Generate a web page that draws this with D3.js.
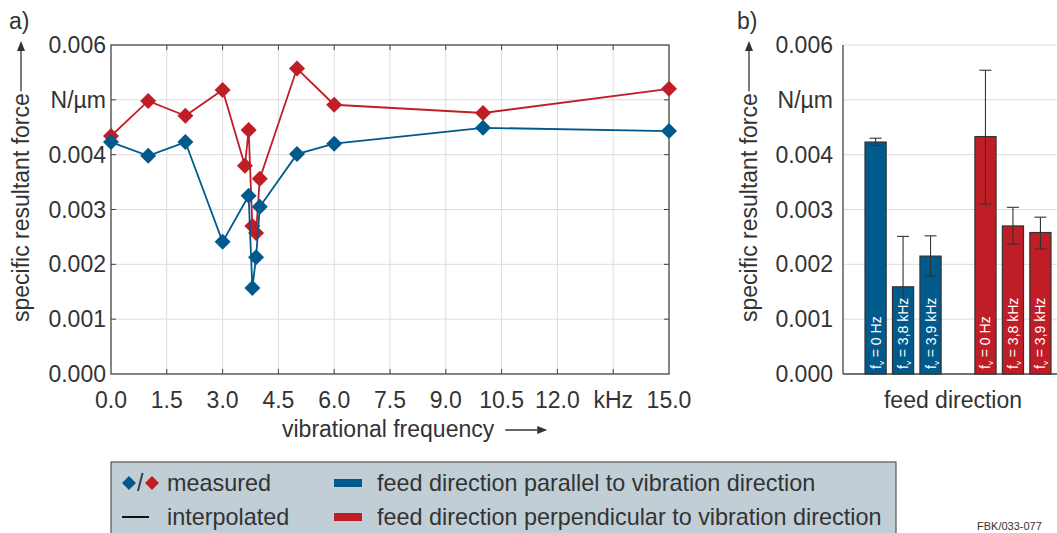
<!DOCTYPE html>
<html>
<head>
<meta charset="utf-8">
<script src="https://cdn.jsdelivr.net/npm/d3@7"></script>
<style>
body{margin:0;background:#fff;}
svg text{font-family:"Liberation Sans",Arial,sans-serif;fill:#333;}
</style>
</head>
<body>
<script>
// line chart a)
let freqBlue=[0,1,2,3,3.7,3.8,3.9,4.0,5,6,10,15];
let forceBlue=[0.00423,0.00398,0.00423,0.00241,0.00325,0.00157,0.00213,0.00305,0.00401,0.00420,0.00449,0.00443];
let freqRed=[0,1,2,3,3.6,3.7,3.8,3.9,4.0,5,6,10,15];
let forceRed=[0.00434,0.00498,0.00471,0.00518,0.00380,0.00445,0.00270,0.00257,0.00356,0.00557,0.00491,0.00476,0.00520];
let xTicks=[0,1.5,3,4.5,6,7.5,9,10.5,12,13.5,15];
let xTickLabels=["0.0","1.5","3.0","4.5","6.0","7.5","9.0","10.5","12.0","kHz","15.0"];
let yTicks=[0,0.001,0.002,0.003,0.004,0.005,0.006];
let yTickLabels=["0.000","0.001","0.002","0.003","0.004","N/\u00b5m","0.006"];
// bar chart b)
let barLabels=["0 Hz","3,8 kHz","3,9 kHz"];
let barBlue=[0.00423,0.00159,0.00215];
let barBlueLow=[0.00417,0.00112,0.00179];
let barBlueHigh=[0.00430,0.00251,0.00252];
let barRed=[0.00433,0.00270,0.00258];
let barRedLow=[0.00310,0.00237,0.00228];
let barRedHigh=[0.00554,0.00304,0.00286];

const BLUE="#005a8c",RED="#c01e27",AXIS="#444",GRID="#dcdcdc",FS=23;
let svgWidth=1057,svgHeight=533;
let svg=d3.select("body").append("svg").attr("width",svgWidth).attr("height",svgHeight);
let diamondPath=r=>`M0,${-r}L${r},0L0,${r}L${-r},0Z`;

function yTitle(x,yBottom,yTop){
    let g=svg.append("g");
    let t=g.append("text").attr("transform",`translate(${x},${yBottom}) rotate(-90)`)
        .attr("font-size",FS).text("specific resultant force");
    let len=t.node().getComputedTextLength();
    let y0=yBottom-len-2;
    g.append("line").attr("x1",x-8).attr("x2",x-8).attr("y1",y0).attr("y2",yTop+8)
        .attr("stroke","#333").attr("stroke-width",1.3);
    g.append("path").attr("d",`M${x-8},${yTop} l-4,10 l8,0 z`).attr("fill","#333");
}

// ---------- a) ----------
let x=d3.scaleLinear().domain([0,15]).range([111,669]);
let y=d3.scaleLinear().domain([0,0.006]).range([374,45]);
let ga=svg.append("g");
ga.append("g").selectAll("line").data(xTicks.slice(1,-1)).enter().append("line")
    .attr("x1",d=>x(d)).attr("x2",d=>x(d)).attr("y1",45).attr("y2",374)
    .attr("stroke",GRID).attr("stroke-width",1);
ga.append("g").selectAll("line").data(yTicks.slice(1,-1)).enter().append("line")
    .attr("x1",111).attr("x2",669).attr("y1",d=>y(d)).attr("y2",d=>y(d))
    .attr("stroke",GRID).attr("stroke-width",1);
// frame with inward ticks
ga.append("rect").attr("x",111).attr("y",45).attr("width",558).attr("height",329)
    .attr("fill","none").attr("stroke",AXIS).attr("stroke-width",1.3);
xTicks.slice(1,-1).forEach(d=>{
    ga.append("line").attr("x1",x(d)).attr("x2",x(d)).attr("y1",45).attr("y2",50).attr("stroke",AXIS);
    ga.append("line").attr("x1",x(d)).attr("x2",x(d)).attr("y1",374).attr("y2",369).attr("stroke",AXIS);
});
yTicks.slice(1,-1).forEach(d=>{
    ga.append("line").attr("x1",669).attr("x2",664).attr("y1",y(d)).attr("y2",y(d)).attr("stroke",AXIS);
    ga.append("line").attr("x1",111).attr("x2",116).attr("y1",y(d)).attr("y2",y(d)).attr("stroke",AXIS);
});
ga.append("g").selectAll("text").data(xTicks).enter().append("text")
    .attr("x",d=>x(d)).attr("y",408).attr("text-anchor","middle").attr("font-size",FS)
    .text((d,i)=>xTickLabels[i]);
ga.append("g").selectAll("text").data(yTicks).enter().append("text")
    .attr("x",106).attr("y",d=>y(d)+8).attr("text-anchor","end").attr("font-size",FS)
    .text((d,i)=>yTickLabels[i]);
// x title
let xt=ga.append("text").attr("x",282).attr("y",437).attr("font-size",FS).text("vibrational frequency");
let xtEnd=282+xt.node().getComputedTextLength()+11;
ga.append("line").attr("x1",xtEnd).attr("x2",xtEnd+32).attr("y1",430).attr("y2",430)
    .attr("stroke","#333").attr("stroke-width",1.3);
ga.append("path").attr("d",`M${xtEnd+42},430 l-10,-4 l0,8 z`).attr("fill","#333");
yTitle(29,322,41);
svg.append("text").attr("x",9).attr("y",29).attr("font-size",FS).text("a)");

let line=d3.line().x(d=>x(d[0])).y(d=>y(d[1]));
[[freqRed,forceRed,RED],[freqBlue,forceBlue,BLUE]].forEach(([fx,fy,c])=>{
    let pts=fx.map((f,i)=>[f,fy[i]]);
    ga.append("path").datum(pts).attr("d",line).attr("fill","none")
        .attr("stroke",c).attr("stroke-width",1.8);
    ga.append("g").selectAll("path").data(pts).enter().append("path")
        .attr("d",diamondPath(8)).attr("transform",d=>`translate(${x(d[0])},${y(d[1])})`)
        .attr("fill",c);
});

// ---------- b) ----------
let yb=d3.scaleLinear().domain([0,0.006]).range([374,45]);
let gb=svg.append("g");
gb.append("g").selectAll("line").data(yTicks.slice(1)).enter().append("line")
    .attr("x1",843).attr("x2",1057).attr("y1",d=>yb(d)).attr("y2",d=>yb(d))
    .attr("stroke",GRID).attr("stroke-width",1);
gb.append("line").attr("x1",843).attr("x2",843).attr("y1",45).attr("y2",374).attr("stroke",AXIS).attr("stroke-width",1.3);
gb.append("line").attr("x1",843).attr("x2",1057).attr("y1",374).attr("y2",374).attr("stroke",AXIS).attr("stroke-width",1.3);
gb.append("g").selectAll("text").data(yTicks).enter().append("text")
    .attr("x",833).attr("y",d=>yb(d)+8).attr("text-anchor","end").attr("font-size",FS)
    .text((d,i)=>yTickLabels[i]);
yTitle(757,322,41);
svg.append("text").attr("x",737).attr("y",29).attr("font-size",FS).text("b)");
gb.append("text").attr("x",953).attr("y",408).attr("text-anchor","middle").attr("font-size",FS).text("feed direction");

let xb=d3.scaleBand().domain(d3.range(7)).range([865,1051]).paddingInner(0.23).paddingOuter(0);
let bars=[];
barBlue.forEach((v,i)=>bars.push({slot:i,v:v,lo:barBlueLow[i],hi:barBlueHigh[i],c:BLUE,lab:barLabels[i]}));
barRed.forEach((v,i)=>bars.push({slot:i+4,v:v,lo:barRedLow[i],hi:barRedHigh[i],c:RED,lab:barLabels[i]}));
let bw=xb.bandwidth();
let bg=gb.selectAll("g.bar").data(bars).enter().append("g").attr("class","bar");
bg.append("rect").attr("x",d=>xb(d.slot)).attr("y",d=>yb(d.v)).attr("width",bw)
    .attr("height",d=>374-yb(d.v)).attr("fill",d=>d.c).attr("stroke","#333").attr("stroke-width",1.2);
bg.append("line").attr("x1",d=>xb(d.slot)+bw/2).attr("x2",d=>xb(d.slot)+bw/2)
    .attr("y1",d=>yb(d.lo)).attr("y2",d=>yb(d.hi)).attr("stroke","#333").attr("stroke-width",1.1);
bg.append("line").attr("x1",d=>xb(d.slot)+bw/2-6).attr("x2",d=>xb(d.slot)+bw/2+6)
    .attr("y1",d=>yb(d.hi)).attr("y2",d=>yb(d.hi)).attr("stroke","#333").attr("stroke-width",1.1);
bg.append("line").attr("x1",d=>xb(d.slot)+bw/2-6).attr("x2",d=>xb(d.slot)+bw/2+6)
    .attr("y1",d=>yb(d.lo)).attr("y2",d=>yb(d.lo)).attr("stroke","#333").attr("stroke-width",1.1);
let bt=bg.append("text").attr("transform",d=>`translate(${xb(d.slot)+bw/2+5},369) rotate(-90)`)
    .attr("font-size",14).style("fill","#fff");
bt.append("tspan").text("f");
bt.append("tspan").attr("font-size",8).attr("dy",3).text("v");
bt.append("tspan").attr("dy",-3).text(d=>" = "+d.lab);

// ---------- legend ----------
let gl=svg.append("g");
gl.append("rect").attr("x",111).attr("y",462).attr("width",785).attr("height",80)
    .attr("fill","#c1ced6").attr("stroke","#555").attr("stroke-width",1.2);
gl.append("path").attr("d",diamondPath(7)).attr("transform","translate(129,483)").attr("fill",BLUE);
gl.append("text").attr("x",137).attr("y",491).attr("font-size",FS).text("/");
gl.append("path").attr("d",diamondPath(7)).attr("transform","translate(152,483)").attr("fill",RED);
gl.append("text").attr("x",167).attr("y",491).attr("font-size",23.4).text("measured");
gl.append("line").attr("x1",122).attr("x2",149).attr("y1",517).attr("y2",517).attr("stroke","#111").attr("stroke-width",2);
gl.append("text").attr("x",167).attr("y",525).attr("font-size",23.4).text("interpolated");
gl.append("rect").attr("x",334).attr("y",479).attr("width",28).attr("height",8).attr("fill",BLUE);
gl.append("text").attr("x",377).attr("y",491).attr("font-size",23.4).text("feed direction parallel to vibration direction");
gl.append("rect").attr("x",334).attr("y",513).attr("width",28).attr("height",8).attr("fill",RED);
gl.append("text").attr("x",377).attr("y",525).attr("font-size",23.4).text("feed direction perpendicular to vibration direction");
svg.append("text").attr("x",977).attr("y",530).attr("font-size",11).text("FBK/033-077");
</script>
</body>
</html>
